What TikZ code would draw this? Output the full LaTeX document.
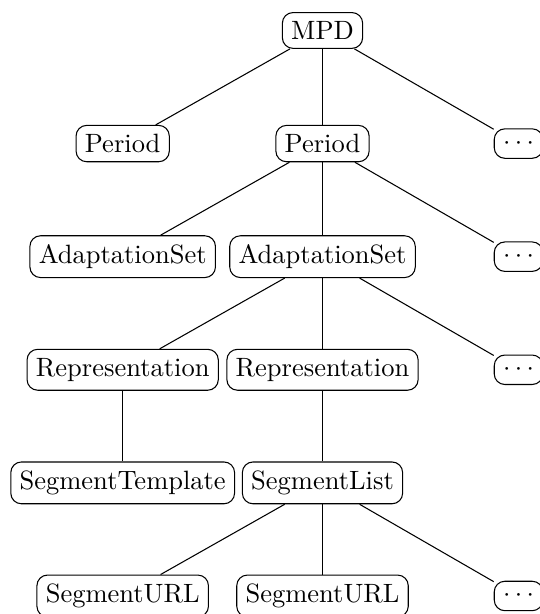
\documentclass[tikz,border=0pt]{standalone}
\usetikzlibrary{positioning}

\begin{document}
\begin{tikzpicture}[
    node distance=1.5cm and 2.65cm, on grid,
    % --- node styles ---
    elem/.style ={draw, rounded corners, align=center},
    more/.style ={elem},
]
\useasboundingbox (-121.7pt,11.5pt) rectangle (81.7pt,-220.2pt);

% =============== MPD level ===============
\node[elem] (mpd) at (0,0) {MPD};

% =============== Periods ===============
\node[elem, below=of mpd]       (per2) {Period};
\node[elem, left=of per2]       (per1) {Period};
\node[more, right=2.6cm of per2] (perx) {$\cdots$};

% =============== Adaptation sets ===============
\node[elem, below=of per2]      (as2) {AdaptationSet};
\node[elem, left=of as2]        (as1) {AdaptationSet};
\node[more, right=2.6cm of as2] (asx) {$\cdots$};

% =============== Representations ===============
\node[elem, below=of as2]       (rep2) {Representation};
\node[elem, left=of rep2]       (rep1) {Representation};
\node[more, right=2.6cm of rep2] (repx) {$\cdots$};

% =============== Segment info ===============
\node[elem, below=of rep1]      (stpl) {SegmentTemplate};
\node[elem, below=of rep2]      (slist) {SegmentList};

% =============== Segment URLs ===============
\node[elem, below=of slist]     (url2) {SegmentURL};
\node[elem, left=of url2]       (url1) {SegmentURL};
\node[more, right=2.6cm of url2] (urlx) {$\cdots$};

% =============== Edges ===============
\draw (mpd) -- (per1);
\draw (mpd) -- (per2);
\draw (mpd) -- (perx);
\draw (per2) -- (as1);
\draw (per2) -- (as2);
\draw (per2) -- (asx);
\draw (as2) -- (rep1);
\draw (as2) -- (rep2);
\draw (as2) -- (repx);
\draw (rep1) -- (stpl);
\draw (rep2) -- (slist);
\draw (slist) -- (url1);
\draw (slist) -- (url2);
\draw (slist) -- (urlx);

\end{tikzpicture}
\end{document}
